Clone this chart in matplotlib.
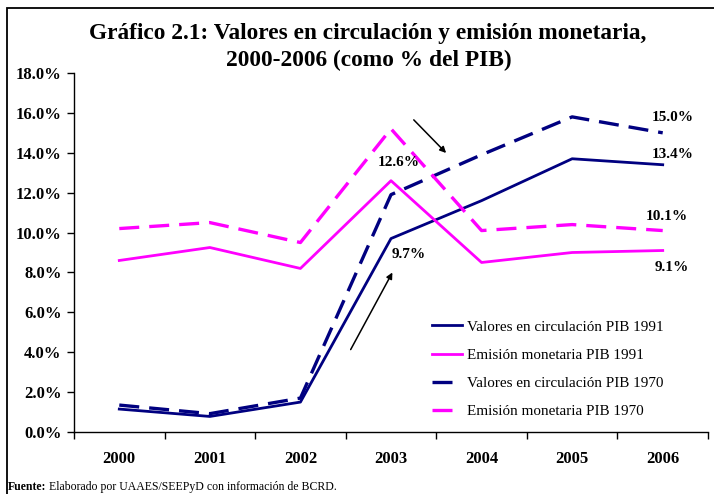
import matplotlib
matplotlib.use("Agg")
import matplotlib.pyplot as plt
from matplotlib.patches import Rectangle
import numpy as np

years = ['2000', '2001', '2002', '2003', '2004', '2005', '2006']
valores_1991 = [1.15, 0.78, 1.5, 9.7, 11.6, 13.7, 13.4]
emision_1991 = [8.6, 9.25, 8.2, 12.6, 8.5, 9.0, 9.1]
valores_1970 = [1.35, 0.92, 1.7, 11.9, 13.9, 15.8, 15.0]
emision_1970 = [10.2, 10.5, 9.5, 15.2, 10.1, 10.4, 10.1]

labels = ['Valores en circulación PIB 1991', 'Emisión monetaria PIB 1991',
          'Valores en circulación PIB 1970', 'Emisión monetaria PIB 1970']

navy = '#000080'
pink = '#FF00FF'

plt.rcParams['font.family'] = ['Liberation Serif', 'DejaVu Serif']

fig = plt.figure(figsize=(7.14, 4.94), dpi=100)
ax = fig.add_axes([74/714, 1-432/494, (708-74)/714, (432-73)/494])

x = np.arange(len(years))
ax.plot(x, valores_1991, color=navy, lw=2.0, label=labels[0])
ax.plot(x, emision_1991, color=pink, lw=2.0, label=labels[1])
ax.plot(x, valores_1970, color=navy, lw=2.4, dashes=(6, 3), label=labels[2])
ax.plot(x, emision_1970, color=pink, lw=2.4, dashes=(6, 3), label=labels[3])

ax.set_xlim(-0.5, 6.5)
ax.set_ylim(0, 18)
ax.set_yticks(np.arange(0, 19, 2))
ax.set_yticklabels(['%.1f%%' % v for v in np.arange(0, 19, 2)],
                   fontsize=12, fontweight='bold')
ax.set_xticks(x)
ax.set_xticklabels(years, fontsize=12, fontweight='bold')
ax.tick_params(axis='x', which='major', length=0, pad=14)
ax.set_xticks(np.arange(-0.5, 7, 1), minor=True)
ax.tick_params(axis='x', which='minor', length=5, width=1, direction='out')
ax.tick_params(axis='y', length=5, width=1, direction='out', pad=4)
for s in ['top', 'right']:
    ax.spines[s].set_visible(False)
ax.spines['left'].set_linewidth(1)
ax.spines['bottom'].set_linewidth(1)

# value labels
notes = [('15.0%', 6.11, 15.75), ('13.4%', 6.11, 13.89), ('12.6%', 3.09, 13.49),
         ('10.1%', 6.04, 10.78), ('9.7%', 3.19, 8.88), ('9.1%', 6.10, 8.27)]
for t, tx, ty in notes:
    ax.text(tx, ty, t, ha='center', va='center', fontsize=11, fontweight='bold')

ax.annotate('', xy=(3.63, 13.89), xytext=(3.23, 15.75),
            arrowprops=dict(arrowstyle='-|>', color='black', lw=1.1,
                            mutation_scale=9))
ax.annotate('', xy=(3.03, 8.12), xytext=(2.54, 4.01),
            arrowprops=dict(arrowstyle='-|>', color='black', lw=1.1,
                            mutation_scale=9))

fig.legend(loc='upper left', bbox_to_anchor=(432/714, 1-320/494), frameon=False,
           fontsize=10.9, handlelength=2.0, handletextpad=0.3, labelspacing=0.97,
           borderpad=0, borderaxespad=0)

fig.text(368/714, 1-33/494, 'Gráfico 2.1: Valores en circulación y emisión monetaria,',
         ha='center', va='center', fontsize=16.8, fontweight='bold')
fig.text(369/714, 1-60/494, '2000-2006 (como % del PIB)',
         ha='center', va='center', fontsize=16.8, fontweight='bold')

# outer frame
fig.patches.append(Rectangle((7/714, -0.1), 1.2, 1.1 - 8/494, transform=fig.transFigure,
                             fill=False, edgecolor='black', lw=1.3))

f1 = fig.text(8/714, 1-487/494, 'Fuente:', ha='left', va='center',
              fontsize=8.5, fontweight='bold')
fig.canvas.draw()
bb = f1.get_window_extent().transformed(fig.transFigure.inverted())
fig.text(bb.x1 + 3/714, 1-487/494, 'Elaborado por UAAES/SEEPyD con información de BCRD.',
         ha='left', va='center', fontsize=8.5)

fig.savefig('out.png', dpi=100)
